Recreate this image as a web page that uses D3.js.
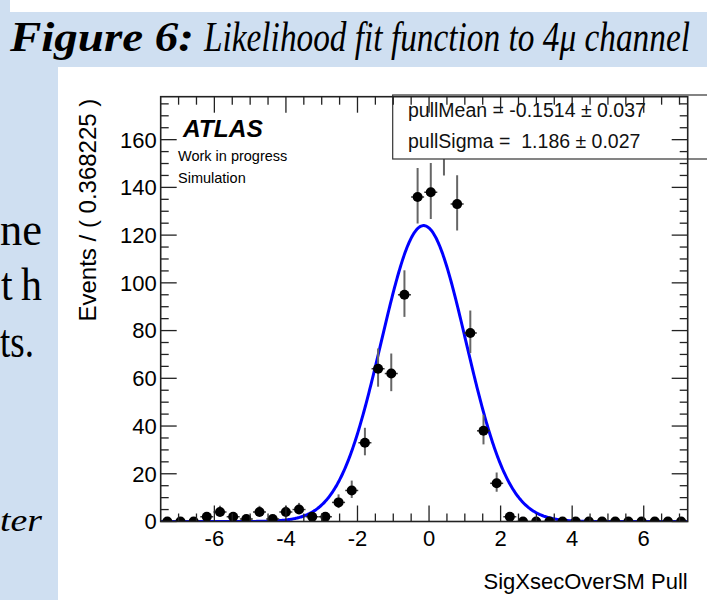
<!DOCTYPE html>
<html>
<head>
<meta charset="utf-8">
<script src="https://cdn.jsdelivr.net/npm/d3@7"></script>
<style>
  body { margin: 0; padding: 0; background: #fff; }
  svg { display: block; }
  text { white-space: pre; }
</style>
</head>
<body>
<div id="chart"></div>
<script>
// histogram of pulls, 40 bins of width 0.368225 starting at -7.5
var xMin = -7.5;
var binWidth = 0.368225;
var counts = [0, 0, 0, 2, 4, 2, 1, 4, 1, 4,
              5, 2, 2, 8, 13, 33, 64, 62, 95, 136,
              138, 157, 133, 79, 38, 16, 2, 0, 0, 0,
              0, 0, 0, 0, 0, 0, 0, 0, 0, 0];

// fit results shown in the stat box
var fitMean = -0.1514, fitMeanErr = 0.037;
var fitSigma = 1.186, fitSigmaErr = 0.027;

var xTickValues = [-6, -4, -2, 0, 2, 4, 6];
var yTickValues = [0, 20, 40, 60, 80, 100, 120, 140, 160];

var W = 707, H = 600;
var margin = {left: 160.7, right: 707 - 687.7, top: 96.7, bottom: H - 521.5};

var svg = d3.select("#chart").append("svg")
  .attr("width", W)
  .attr("height", H);

// slide background
svg.append("rect").attr("x", 0).attr("y", 0).attr("width", W).attr("height", H)
  .attr("fill", "#cfdff1");
svg.append("rect").attr("x", 10).attr("y", 0).attr("width", W - 10).attr("height", 12)
  .attr("fill", "#fff");

// caption: two pieces, each squeezed horizontally to the width seen on the slide
function captionPiece(txt, x, targetWidth, bold) {
  var t = svg.append("text")
    .attr("font-family", "Liberation Serif, Times New Roman, serif")
    .attr("font-size", 42)
    .attr("font-style", "italic")
    .attr("font-weight", bold ? "bold" : "normal")
    .attr("fill", "#000")
    .text(txt);
  var w = t.node().getComputedTextLength();
  t.attr("transform", "translate(" + x + ",51)scale(" + (targetWidth / w) + ",1)");
}
captionPiece("Figure 6:", 10, 184, true);
captionPiece("Likelihood fit function to 4\u03bc channel", 204, 486, false);

// bits of slide text on the left
var sideText = [
  {t: "ne", x: 0, y: 245, len: 42, style: "normal", size: 46},
  {t: "t\u2009h", x: 1, y: 300, len: 41, style: "normal", size: 46},
  {t: "ts.", x: 0, y: 357, len: 34, style: "normal", size: 46},
  {t: "ter", x: 0, y: 531, len: 42, style: "italic", size: 32}
];
svg.selectAll(".side").data(sideText).enter().append("text")
  .attr("class", "side")
  .attr("x", function(d) { return d.x; }).attr("y", function(d) { return d.y; })
  .attr("textLength", function(d) { return d.len; })
  .attr("lengthAdjust", "spacingAndGlyphs")
  .attr("font-family", "Liberation Serif, Times New Roman, serif")
  .attr("font-size", function(d) { return d.size; })
  .attr("font-style", function(d) { return d.style; })
  .text(function(d) { return d.t; });

// white plot canvas
svg.append("rect").attr("x", 58).attr("y", 67).attr("width", W - 58).attr("height", H - 67)
  .attr("fill", "#fff");

var width = W - margin.left - margin.right,
    height = H - margin.top - margin.bottom;

var xMax = xMin + counts.length * binWidth;
var xScale = d3.scaleLinear().domain([xMin, xMax]).range([margin.left, margin.left + width]);
var yScale = d3.scaleLinear().domain([0, 178]).range([margin.top + height, margin.top]);

var bins = counts.map(function(n, i) {
  // approximate 68% Poisson interval
  var s = Math.sqrt(n + 0.25);
  return {
    x: xMin + (i + 0.5) * binWidth,
    n: n,
    lo: Math.max(0, n + 0.5 - s),
    hi: n + 0.5 + s
  };
});

var total = d3.sum(counts);

// fitted gaussian, normalised to the histogram
var curveX = d3.range(xMin, xMax + 0.001, 0.02);
var curve = curveX.map(function(x) {
  var z = (x - fitMean) / fitSigma;
  return {x: x, y: total * binWidth / (fitSigma * Math.sqrt(2 * Math.PI)) * Math.exp(-0.5 * z * z)};
});

svg.append("defs").append("clipPath").attr("id", "frameclip")
  .append("rect")
  .attr("x", margin.left).attr("y", margin.top)
  .attr("width", width).attr("height", height);

var plot = svg.append("g").attr("clip-path", "url(#frameclip)");

plot.append("path")
  .datum(curve)
  .attr("fill", "none")
  .attr("stroke", "#0000ff")
  .attr("stroke-width", 3)
  .attr("d", d3.line()
    .x(function(d) { return xScale(d.x); })
    .y(function(d) { return yScale(d.y); }));

// error bars
plot.selectAll(".err").data(bins).enter().append("line")
  .attr("class", "err")
  .attr("x1", function(d) { return xScale(d.x); })
  .attr("x2", function(d) { return xScale(d.x); })
  .attr("y1", function(d) { return yScale(d.lo); })
  .attr("y2", function(d) { return yScale(d.hi); })
  .attr("stroke", "#666")
  .attr("stroke-width", 2);

plot.selectAll(".hbar").data(bins).enter().append("line")
  .attr("class", "hbar")
  .attr("x1", function(d) { return xScale(d.x) - 6.5; })
  .attr("x2", function(d) { return xScale(d.x) + 6.5; })
  .attr("y1", function(d) { return yScale(d.n); })
  .attr("y2", function(d) { return yScale(d.n); })
  .attr("stroke", "#333")
  .attr("stroke-width", 1.5);

plot.selectAll(".pt").data(bins).enter().append("circle")
  .attr("class", "pt")
  .attr("cx", function(d) { return xScale(d.x); })
  .attr("cy", function(d) { return yScale(d.n); })
  .attr("r", 5)
  .attr("fill", "#000");

// stat box
var box = svg.append("g");
box.append("rect")
  .attr("x", 392.7).attr("y", 95)
  .attr("width", 330).attr("height", 64)
  .attr("fill", "#fff")
  .attr("stroke", "#333")
  .attr("stroke-width", 1.2);
var statLines = [
  "pullMean = " + fitMean.toFixed(4) + " \u00b1 " + fitMeanErr.toFixed(3),
  "pullSigma =  " + fitSigma.toFixed(3) + " \u00b1 " + fitSigmaErr.toFixed(3)
];
box.selectAll("text").data(statLines).enter().append("text")
  .attr("x", 408)
  .attr("y", function(d, i) { return 117 + i * 31; })
  .attr("font-family", "Liberation Sans, Arial, sans-serif")
  .attr("font-size", 19.5)
  .attr("fill", "#111")
  .text(function(d) { return d; });

// frame and axes (ROOT style ticks on all four sides)
var axisFont = "Liberation Sans, Arial, sans-serif";
var axes = svg.append("g").attr("stroke", "#222").attr("stroke-width", 1.3);

axes.append("rect")
  .attr("x", margin.left).attr("y", margin.top)
  .attr("width", width).attr("height", height)
  .attr("fill", "none")
  .attr("stroke-width", 1.6);

var yMinor = d3.range(0, 178.01, 5);
var xMinor = d3.range(-7, 7.01, 0.5);

function isMajorY(v) { return v % 20 === 0; }
function isMajorX(v) { return v % 2 === 0; }

// left + right ticks
yMinor.forEach(function(v) {
  var len = isMajorY(v) ? 16 : 8;
  var y = yScale(v);
  axes.append("line").attr("x1", margin.left).attr("x2", margin.left + len).attr("y1", y).attr("y2", y);
  axes.append("line").attr("x1", margin.left + width).attr("x2", margin.left + width - len).attr("y1", y).attr("y2", y);
});
// bottom + top ticks
xMinor.forEach(function(v) {
  var len = isMajorX(v) ? 16 : 8;
  var x = xScale(v);
  axes.append("line").attr("x1", x).attr("x2", x).attr("y1", margin.top + height).attr("y2", margin.top + height - len);
  axes.append("line").attr("x1", x).attr("x2", x).attr("y1", margin.top).attr("y2", margin.top + len);
});

// tick labels
svg.selectAll(".ylab").data(yTickValues).enter().append("text")
  .attr("class", "ylab")
  .attr("x", margin.left - 4)
  .attr("y", function(d) { return yScale(d); })
  .attr("dy", "0.36em")
  .attr("text-anchor", "end")
  .attr("font-family", axisFont)
  .attr("font-size", 22)
  .text(function(d) { return d; });

svg.selectAll(".xlab").data(xTickValues).enter().append("text")
  .attr("class", "xlab")
  .attr("x", function(d) { return xScale(d); })
  .attr("y", 546)
  .attr("text-anchor", "middle")
  .attr("font-family", axisFont)
  .attr("font-size", 22)
  .text(function(d) { return d; });

// axis titles
svg.append("text")
  .attr("x", margin.left + width)
  .attr("y", 589)
  .attr("text-anchor", "end")
  .attr("font-family", axisFont)
  .attr("font-size", 22)
  .text("SigXsecOverSM Pull");

svg.append("text")
  .attr("transform", "translate(96," + (margin.top + 2) + ")rotate(-90)")
  .attr("text-anchor", "end")
  .attr("font-family", axisFont)
  .attr("font-size", 24)
  .text("Events / ( " + binWidth + " )");

// ATLAS label
svg.append("text")
  .attr("x", 183).attr("y", 137)
  .attr("font-family", axisFont)
  .attr("font-size", 24.5)
  .attr("font-weight", "bold")
  .attr("font-style", "italic")
  .text("ATLAS");
svg.append("text")
  .attr("x", 178).attr("y", 161)
  .attr("font-family", axisFont)
  .attr("font-size", 14.5)
  .text("Work in progress");
svg.append("text")
  .attr("x", 178).attr("y", 183)
  .attr("font-family", axisFont)
  .attr("font-size", 14.5)
  .text("Simulation");
</script>
</body>
</html>
